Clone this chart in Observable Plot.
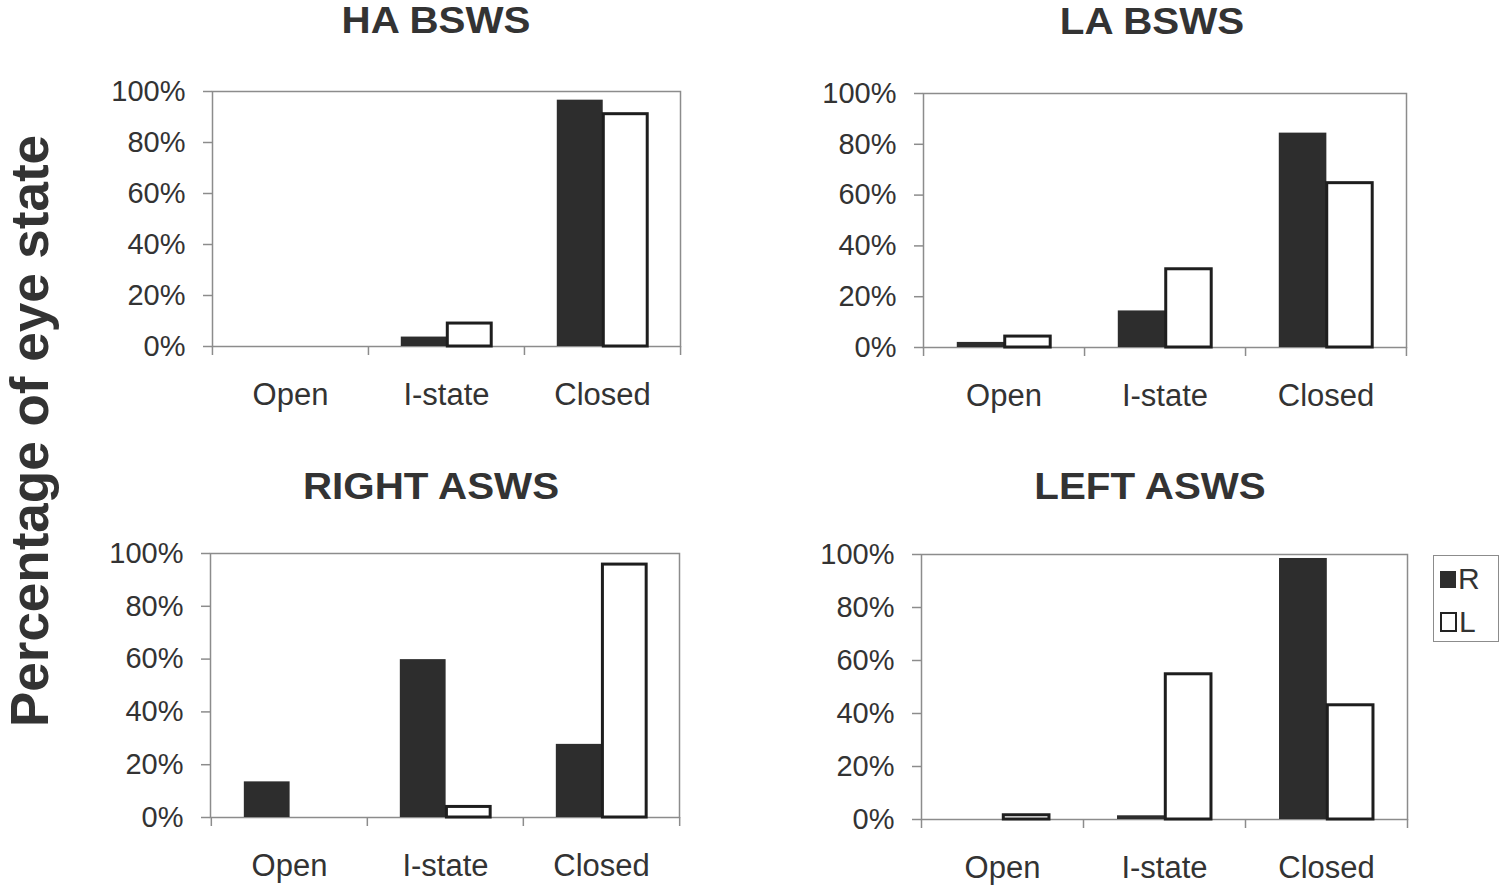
<!DOCTYPE html>
<html>
<head>
<meta charset="utf-8">
<script src="https://cdn.jsdelivr.net/npm/d3@7"></script>
<script src="https://cdn.jsdelivr.net/npm/@observablehq/plot@0.6"></script>
<style>
  html, body { margin: 0; padding: 0; background: #fff; }
  #fig { position: relative; width: 1500px; height: 886px; overflow: hidden; font-family: "Liberation Sans", Arial, sans-serif; color: #333; }
  .panel { position: absolute; }
  .title { position: absolute; transform: translate(-50%, -50%) scaleX(1.12); font-weight: bold; font-size: 36px; white-space: nowrap; color: #333; line-height: 1; }
  .ytitle { position: absolute; left: 29px; top: 431px; transform: translate(-50%, -50%) rotate(-90deg); font-weight: bold; font-size: 53px; white-space: nowrap; color: #333; line-height: 1; }
  .legend { position: absolute; left: 1433px; top: 555px; width: 66px; height: 87px; border: 1.5px solid #8c8c8c; box-sizing: border-box; background: #fff; }
  .leg-item { position: absolute; left: 6px; display: flex; align-items: center; font-size: 30px; color: #333; line-height: 1; }
  .sw { display: inline-block; margin-right: 2px; box-sizing: border-box; }
</style>
</head>
<body>
<div id="fig"></div>
<script>
const categories = ["Open", "I-state", "Closed"];
const series = ["R", "L"];
const yTicks = [0, 20, 40, 60, 80, 100];
const panelTitles = ["HA BSWS", "LA BSWS", "RIGHT ASWS", "LEFT ASWS"];

const haBswsR = [0, 3.7, 96.6];
const haBswsL = [0, 9.0, 91.1];
const laBswsR = [2.0, 14.4, 84.4];
const laBswsL = [4.3, 30.8, 64.7];
const rightAswsR = [13.5, 59.8, 27.7];
const rightAswsL = [0, 4.0, 95.8];
const leftAswsR = [0, 1.4, 98.5];
const leftAswsL = [1.6, 54.8, 43.1];

const fig = document.getElementById("fig");

const layouts = [
  {x0: 211.7, x1: 680, y0: 90.7, y1: 345.3, tx: 436, ty: 21},
  {x0: 922.8, x1: 1405.5, y0: 92.7, y1: 346.7, tx: 1152, ty: 22},
  {x0: 210, x1: 679, y0: 553.3, y1: 817.3, tx: 431, ty: 487},
  {x0: 921, x1: 1407, y0: 554.3, y1: 819.3, tx: 1150, ty: 487}
];
const seriesR = [haBswsR, laBswsR, rightAswsR, leftAswsR];
const seriesL = [haBswsL, laBswsL, rightAswsL, leftAswsL];

const mL = 122, mR = 15, mT = 31, mB = 70;
const gray = "#8c8c8c";

layouts.forEach((lay, p) => {
  const data = categories.map((c, i) => ({cat: c, R: seriesR[p][i], L: seriesL[p][i]}));
  const pw = lay.x1 - lay.x0;
  const ph = lay.y1 - lay.y0;
  const bw = pw / categories.length;
  const width = Math.round(pw + mL + mR);
  const height = Math.round(ph + mT + mB);
  const svg = Plot.plot({
    width, height,
    marginLeft: mL, marginRight: mR, marginTop: mT, marginBottom: mB,
    style: {fontFamily: "'Liberation Sans', Arial, sans-serif", color: "#333", background: "transparent", overflow: "visible"},
    x: {domain: categories, padding: 0, label: null},
    y: {domain: [0, 100], label: null},
    marks: [
      Plot.frame({stroke: gray, strokeWidth: 1.5}),
      Plot.barY(data.filter(d => d.R > 0), {x: "cat", y: "R", fill: "#2d2d2d", insetLeft: 0.21 * bw, insetRight: 0.495 * bw}),
      Plot.barY(data.filter(d => d.L > 0), {x: "cat", y: "L", fill: "white", stroke: "#1e1e1e", strokeWidth: 3, insetLeft: 0.508 * bw, insetRight: 0.21 * bw}),
      Plot.axisY({ticks: yTicks, tickSize: 9, tickPadding: 18, tickFormat: d => d + "%", fontSize: 29, stroke: gray, strokeWidth: 1.5, fill: "#333", label: null}),
      Plot.axisX({tickSize: 0, tickPadding: 36, fontSize: 31, fill: "#333", label: null}),
      Plot.axisX({tickSize: 9, tickFormat: () => "", dx: -bw / 2, stroke: gray, strokeWidth: 1.5, label: null}),
      Plot.axisX({ticks: [categories[categories.length - 1]], tickSize: 9, tickFormat: () => "", dx: bw / 2, stroke: gray, strokeWidth: 1.5, label: null})
    ]
  });
  const wrap = document.createElement("div");
  wrap.className = "panel";
  wrap.style.left = (lay.x0 - mL) + "px";
  wrap.style.top = (lay.y0 - mT) + "px";
  wrap.appendChild(svg);
  fig.appendChild(wrap);

  const t = document.createElement("div");
  t.className = "title";
  t.style.left = lay.tx + "px";
  t.style.top = lay.ty + "px";
  t.textContent = panelTitles[p];
  fig.appendChild(t);
});

const yt = document.createElement("div");
yt.className = "ytitle";
yt.textContent = "Percentage of eye state";
fig.appendChild(yt);

const leg = document.createElement("div");
leg.className = "legend";
series.forEach((s, i) => {
  const item = document.createElement("div");
  item.className = "leg-item";
  item.style.top = (i === 0 ? 8 : 51) + "px";
  const sw = document.createElement("span");
  sw.className = "sw";
  if (s === "R") { sw.style.background = "#2d2d2d"; sw.style.width = "16px"; sw.style.height = "17px"; }
  else { sw.style.background = "#fff"; sw.style.border = "2.5px solid #222"; sw.style.width = "17px"; sw.style.height = "20px"; }
  item.appendChild(sw);
  const lab = document.createElement("span");
  lab.textContent = s;
  item.appendChild(lab);
  leg.appendChild(item);
});
fig.appendChild(leg);
</script>
</body>
</html>
